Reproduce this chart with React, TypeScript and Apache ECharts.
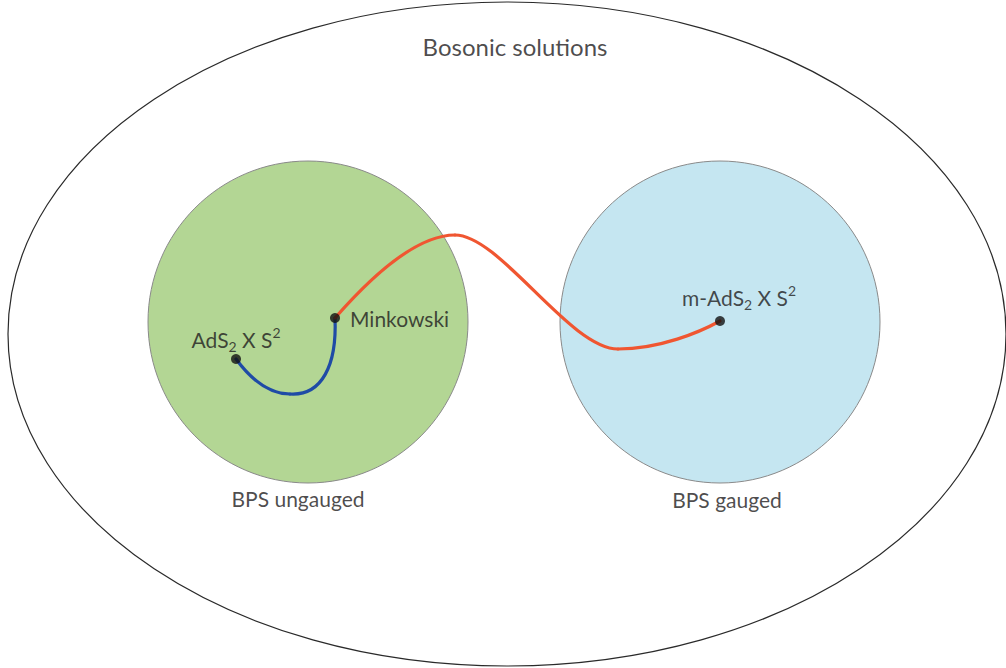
import React, { useEffect, useRef } from "react";
import * as echarts from "echarts";

const W = 1006;
const H = 668;

// Regions of the diagram: [centre x, centre y, radius x, radius y] in diagram units
const regionNames = ["Bosonic solutions", "BPS ungauged", "BPS gauged"];
const regionShapes = [
  [507, 334, 499, 332],
  [308, 322, 160, 161],
  [720, 322, 160, 161],
];
const regionLabelAnchors = [
  [515, 46],
  [298, 498],
  [727, 499],
];

// Special solutions (dots)
const pointNames = ["AdS2 X S2", "Minkowski", "m-AdS2 X S2"];
const pointCoords = [
  [236, 359],
  [335, 318],
  [720, 321],
];

// Flow curves as cubic segments: [start x, start y, ctrl1 x, ctrl1 y, ctrl2 x, ctrl2 y, end x, end y]
const blueCurveSegments = [
  [236, 359, 250, 378, 268, 394, 290, 394],
  [290, 394, 322, 396, 337, 365, 335, 318],
];
const redCurveSegments = [
  [335, 318, 370, 278, 415, 235, 455, 235],
  [455, 235, 500, 235, 570, 349, 618, 349],
  [618, 349, 660, 349, 700, 332, 720, 321],
];

const FONT = "Lato";
const TEXT = "#1e1c1d";
const regionStyles = [
  { fill: "#ffffff", stroke: "#2a2a2a", lineWidth: 1.2 },
  { fill: "#b3d694", stroke: "#8a8a8a", lineWidth: 1 },
  { fill: "#c5e6f1", stroke: "#8a8a8a", lineWidth: 1 },
];
const regionFontSizes = [24, 21, 21];

const richStyles = {
  n: { fontSize: 21, fontFamily: FONT, color: TEXT, lineHeight: 30, verticalAlign: "middle" },
  sub: { fontSize: 14, fontFamily: FONT, color: TEXT, verticalAlign: "middle", padding: [14, 0, 0, 0] },
  sup: { fontSize: 14, fontFamily: FONT, color: TEXT, verticalAlign: "middle", padding: [0, 0, 14, 0] },
};

const pointLabels: Record<string, { fmt: string; offset: number[]; align: string }> = {
  "AdS2 X S2": { fmt: "{n|AdS}{sub|2}{n| X S}{sup|2}", offset: [0, -20], align: "center" },
  Minkowski: { fmt: "{n|Minkowski}", offset: [15, 0], align: "left" },
  "m-AdS2 X S2": { fmt: "{n|m-AdS}{sub|2}{n| X S}{sup|2}", offset: [19, -24], align: "center" },
};

function curveSeries(name: string, segments: number[][], color: string) {
  return {
    type: "custom",
    name,
    clip: false,
    z: 3,
    data: segments,
    renderItem: (_params: any, api: any) => {
      const p0 = api.coord([api.value(0), api.value(1)]);
      const c1 = api.coord([api.value(2), api.value(3)]);
      const c2 = api.coord([api.value(4), api.value(5)]);
      const p1 = api.coord([api.value(6), api.value(7)]);
      return {
        type: "bezierCurve",
        shape: {
          x1: p0[0], y1: p0[1],
          cpx1: c1[0], cpy1: c1[1],
          cpx2: c2[0], cpy2: c2[1],
          x2: p1[0], y2: p1[1],
        },
        style: { fill: "none", stroke: color, lineWidth: 3.2, lineCap: "round" },
      };
    },
  };
}

export default function App() {
  const ref = useRef<HTMLDivElement>(null);
  useEffect(() => {
    if (!ref.current) return;
    const chart = echarts.init(ref.current, undefined, { renderer: "svg" });
    const regionData = regionShapes.map((s, i) => ({ name: regionNames[i], value: s }));
    chart.setOption({
      animation: false,
      backgroundColor: "#ffffff",
      grid: { left: 0, right: 0, top: 0, bottom: 0 },
      xAxis: { type: "value", min: 0, max: W, show: false },
      yAxis: { type: "value", min: 0, max: H, inverse: true, show: false },
      series: [
        {
          type: "custom",
          name: "regions",
          clip: false,
          z: 1,
          data: regionData,
          renderItem: (params: any, api: any) => {
            const c = api.coord([api.value(0), api.value(1)]);
            const s = api.size([api.value(2), api.value(3)]);
            const st = regionStyles[params.dataIndex];
            return {
              type: "ellipse",
              shape: { cx: c[0], cy: c[1], rx: s[0], ry: s[1] },
              style: { fill: st.fill, stroke: st.stroke, lineWidth: st.lineWidth },
            };
          },
        },
        {
          type: "scatter",
          name: "region labels",
          symbolSize: 0,
          z: 5,
          data: regionLabelAnchors.map((p, i) => ({
            name: regionNames[i],
            value: p,
            label: { fontSize: regionFontSizes[i] },
          })),
          label: {
            show: true,
            position: "inside",
            formatter: (p: any) => p.name,
            fontFamily: FONT,
            color: TEXT,
          },
        },
        curveSeries("blue flow", blueCurveSegments, "#1f4ba6"),
        curveSeries("red flow", redCurveSegments, "#f05631"),
        {
          type: "scatter",
          name: "solutions",
          symbolSize: 10,
          z: 6,
          itemStyle: { color: "#111111" },
          data: pointCoords.map((p, i) => {
            const l = pointLabels[pointNames[i]];
            return {
              name: pointNames[i],
              value: p,
              label: {
                show: true,
                position: "inside",
                align: l.align,
                verticalAlign: "middle",
                offset: l.offset,
                formatter: l.fmt,
                rich: richStyles,
              },
            };
          }),
        },
      ],
    });
    return () => chart.dispose();
  }, []);
  return (
    <div
      ref={ref}
      style={{ position: "fixed", left: 0, top: 0, width: W + "px", height: H + "px" }}
    />
  );
}
